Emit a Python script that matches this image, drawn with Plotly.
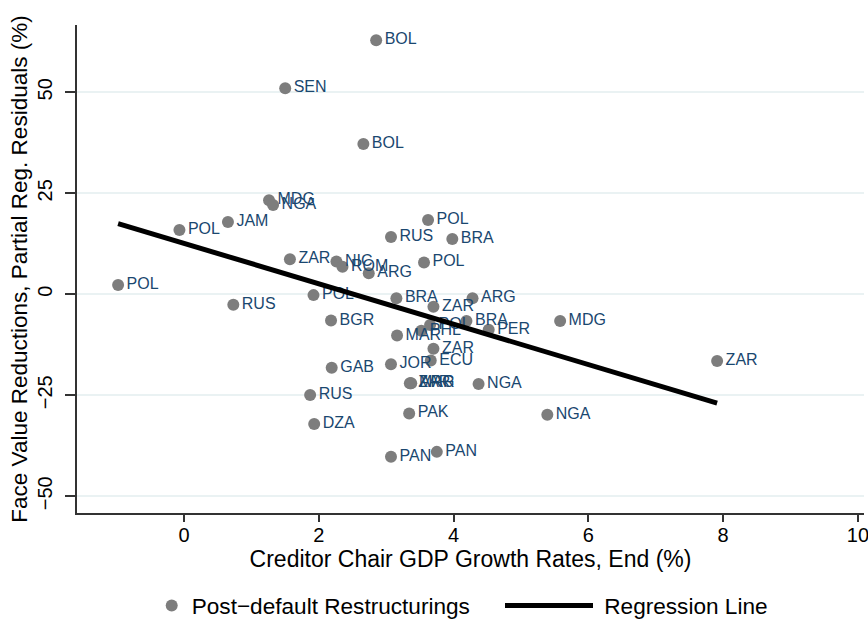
import plotly.graph_objects as go

# ---- data ----
gdp_growth = [2.85, 1.50, 2.66, 1.26, 1.32, 0.65, -0.07, 3.62, 3.07, 3.98,
              1.57, 2.26, 2.35, 2.74, 3.56, -0.98, 0.73, 1.92, 2.18, 3.15,
              3.70, 4.28, 5.58, 4.19, 4.52, 3.52, 3.65, 3.16, 3.70, 3.66,
              3.07, 2.19, 3.35, 3.36, 3.37, 4.37, 1.87, 3.34, 1.93, 3.07,
              3.75, 5.39, 7.91]
residuals = [62.9, 51.0, 37.2, 23.3, 22.1, 17.9, 15.9, 18.4, 14.2, 13.7,
             8.7, 8.1, 6.8, 5.2, 7.9, 2.3, -2.6, -0.2, -6.5, -1.0,
             -3.1, -1.0, -6.6, -6.6, -8.8, -9.0, -7.6, -10.2, -13.5, -16.4,
             -17.3, -18.2, -22.0, -22.0, -22.0, -22.2, -24.9, -29.5, -32.1, -40.2,
             -39.0, -29.8, -16.5]
country = ["BOL", "SEN", "BOL", "MDG", "NGA", "JAM", "POL", "POL", "RUS", "BRA",
           "ZAR", "NIC", "ROM", "ARG", "POL", "POL", "RUS", "POL", "BGR", "BRA",
           "ZAR", "ARG", "MDG", "BRA", "PER", "PHL", "POL", "MAR", "ZAR", "ECU",
           "JOR", "GAB", "ZAR", "MAR", "ARG", "NGA", "RUS", "PAK", "DZA", "PAN",
           "PAN", "NGA", "ZAR"]

reg_intercept = 12.6
reg_slope = -5.0

x_ticks = [0, 2, 4, 6, 8, 10]
y_ticks = [-50, -25, 0, 25, 50]

# ---- regression line endpoints from data range ----
reg_x = [min(gdp_growth), max(gdp_growth)]
reg_y = [reg_intercept + reg_slope * v for v in reg_x]

FONT = "Liberation Sans, Arial, Helvetica, sans-serif"
NAVY = "#1a476f"
GRAY = "#7d7d7d"

W, H = 868, 621

fig = go.Figure()

fig.add_trace(go.Scatter(
    x=gdp_growth, y=residuals, text=country,
    mode="markers+text", textposition="middle right",
    marker=dict(size=12, color=GRAY, line=dict(width=0)),
    textfont=dict(family=FONT, size=16, color=NAVY),
    showlegend=False, hoverinfo="skip", cliponaxis=False,
))
fig.add_trace(go.Scatter(
    x=[None], y=[None], mode="markers",
    marker=dict(size=12, color=GRAY),
    name="Post\u2212default Restructurings", legend="legend",
))
fig.add_trace(go.Scatter(
    x=reg_x, y=reg_y, mode="lines",
    line=dict(color="black", width=5),
    name="\u00a0Regression Line", legend="legend2",
))

legend_common = dict(
    orientation="h", yref="container", xref="container",
    y=15.3 / H, yanchor="middle", xanchor="left",
    font=dict(family=FONT, size=22.6, color="black"),
    bgcolor="rgba(0,0,0,0)",
)

fig.update_layout(
    width=W, height=H,
    margin=dict(l=77, r=4, t=25, b=108, autoexpand=False),
    paper_bgcolor="white", plot_bgcolor="white",
    font=dict(family=FONT, color="black"),
    legend=dict(legend_common, x=151.7 / W, itemwidth=30),
    legend2=dict(legend_common, x=500 / W, itemwidth=88),
    xaxis=dict(
        range=[-1.59, 10.09], tickvals=x_ticks, automargin=False,
        showgrid=False, zeroline=False, ticklabeloverflow="allow",
        showline=True, linecolor="#333333", linewidth=1.5, ticklabelstandoff=-4,
        ticks="outside", ticklen=7, tickcolor="#333333", tickwidth=1.5,
        tickfont=dict(family=FONT, size=20, color="black"),
        title=dict(text="Creditor Chair GDP Growth Rates, End (%)",
                   font=dict(family=FONT, size=23, color="black"), standoff=3),
    ),
    yaxis=dict(
        range=[-54.13, 66.66], tickvals=y_ticks, tickangle=-90, automargin=False,
        showgrid=True, gridcolor="#eaf2f3", gridwidth=1.5, zeroline=False,
        showline=True, linecolor="#333333", linewidth=1.5, ticklabelstandoff=5,
        ticks="outside", ticklen=10, tickcolor="#333333", tickwidth=1.5,
        tickfont=dict(family=FONT, size=20, color="black"),
        title=dict(text="Face Value Reductions, Partial Reg. Residuals (%)",
                   font=dict(family=FONT, size=22.5, color="black"), standoff=0),
    ),
)

fig.write_html(
    "out.html",
    config={"displayModeBar": False},
    post_script="document.body.style.margin='0';document.body.style.overflow='hidden';",
)
